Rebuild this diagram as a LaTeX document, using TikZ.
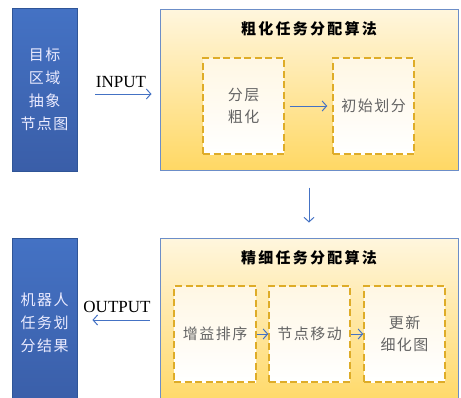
\documentclass[tikz,border=0pt]{standalone}
\usepackage{fontspec}
\setmainfont{Liberation Serif}
\newfontfamily\cjk[LetterSpace=10]{Noto Sans CJK SC}
\newfontfamily\cjkt[LetterSpace=15]{Noto Sans CJK SC}
\usetikzlibrary{arrows.meta}
\definecolor{bluefill}{RGB}{68,114,196}
\definecolor{bluedark}{RGB}{58,94,168}
\definecolor{blueedge}{RGB}{47,85,151}
\definecolor{yelTop}{RGB}{255,246,222}
\definecolor{yelBot}{RGB}{255,216,100}
\definecolor{yelEdge}{RGB}{108,142,200}
\definecolor{dashcol}{RGB}{222,172,40}
\definecolor{innerTop}{RGB}{255,247,228}
\definecolor{arrcol}{RGB}{68,114,196}
\definecolor{graytxt}{RGB}{100,100,100}
\tikzset{
  bluebox/.style={draw=blueedge, line width=0.8pt, top color=bluefill, bottom color=bluedark,
    text=white!92!blue, font=\cjk\fontsize{15}{23}\selectfont, align=center, inner sep=0pt},
  algobox/.style={draw=yelEdge, line width=1pt, top color=yelTop, bottom color=yelBot, inner sep=0pt},
  stepbox/.style={draw=dashcol, line width=1.4pt, dash pattern=on 7pt off 3.5pt, top color=innerTop, bottom color=white,
    text=graytxt, font=\cjk\fontsize{15}{22}\selectfont, align=center, inner sep=0pt,
    minimum height=96pt},
  titlelbl/.style={font=\cjkt\bfseries\fontsize{15}{18}\selectfont, text=black},
  iolbl/.style={font=\fontsize{17}{20}\selectfont, text=black, inner sep=0pt},
  arr/.style={draw=arrcol, line width=1pt, -{Straight Barb[length=4.5pt,width=10pt]}}
}
\begin{document}
\begin{tikzpicture}[x=1pt,y=-1pt]
\useasboundingbox (0,0) rectangle (461,397);
\clip (0,0) rectangle (461,397);
% left blue boxes
\node[bluebox, minimum width=65pt, minimum height=163pt] (src) at (44.5,89.5) {目标\\区域\\抽象\\节点图};
\node[bluebox, minimum width=65pt, minimum height=169pt] (res) at (44.5,322.5) {机器人\\任务划\\分结果};
% algorithm boxes
\node[algobox, minimum width=298pt, minimum height=161pt] (coarse) at (309,89.5) {};
\node[algobox, minimum width=298pt, minimum height=169pt] (fine) at (309,322.5) {};
\node[titlelbl] (t1) at (309,29) {粗化任务分配算法};
\node[titlelbl] (t2) at (309,258) {精细任务分配算法};
% coarse steps
\node[stepbox, minimum width=81pt] (layer) at (243.5,106) {分层\\粗化};
\node[stepbox, minimum width=81pt] (init) at (373.5,106) {初始划分};
% fine steps
\node[stepbox, minimum width=82pt] (gain) at (215,334) {增益排序};
\node[stepbox, minimum width=81pt] (move) at (309.5,334) {节点移动};
\node[stepbox, minimum width=81pt] (upd) at (404.5,334) {更新\\细化图};
% IO labels
\node[iolbl] (inl) at (121,82) {INPUT};
\node[iolbl] (outl) at (117,307) {OUTPUT};
% arrows
\draw[arr, shorten <=18pt, shorten >=8pt] ([yshift=-4.5pt]src.east) -- ([yshift=-4.5pt]coarse.west);
\draw[arr, shorten <=10pt, shorten >=15pt] ([yshift=2.5pt]fine.west) -- ([yshift=2.5pt]res.east);
\draw[arr, shorten <=17pt, shorten >=15pt] (coarse.south) -- (fine.north);
\draw[arr, shorten <=5pt, shorten >=5pt] (layer.east) -- (init.west);
\draw[arr] (gain.east) -- (move.west);
\draw[arr] (move.east) -- (upd.west);
\end{tikzpicture}
\end{document}
